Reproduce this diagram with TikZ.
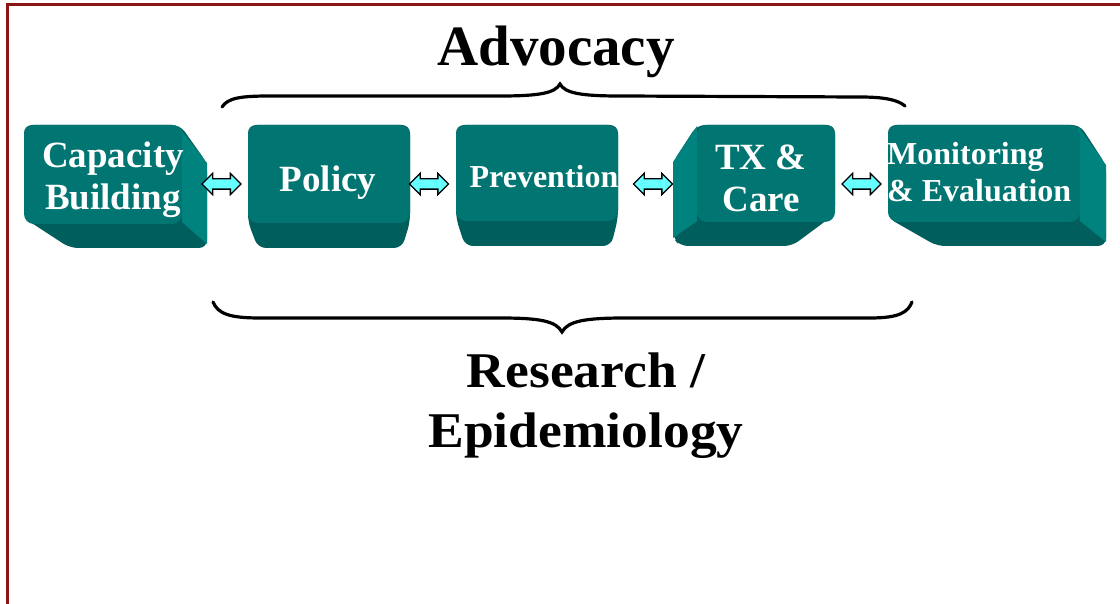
\documentclass[tikz,border=0pt]{standalone}
\usepackage{fontspec}
\setmainfont{Liberation Serif}
\usetikzlibrary{shapes.arrows}
\definecolor{frontc}{HTML}{007572}
\definecolor{sidec}{HTML}{00837F}
\definecolor{bottomc}{HTML}{005F5C}
\definecolor{framec}{HTML}{8B1414}
\definecolor{arrowc}{HTML}{66FFFF}
\tikzset{
  frontface/.style={rectangle, rounded corners=10pt, fill=frontc, inner sep=0pt},
  keybody/.style={fill=bottomc, rounded corners=8pt},
  keyside/.style={fill=sidec},
  keytext/.style={text=white, font=\fontsize{37}{42}\selectfont\bfseries, align=center, inner sep=0pt},
  keytextsmall/.style={text=white, font=\fontsize{32}{37}\selectfont\bfseries, inner sep=0pt},
  linkarrow/.style={double arrow, draw=black, line width=1.3pt, fill=arrowc, minimum height=39pt,
    inner xsep=0pt, inner ysep=4.5pt, double arrow head extend=5.5pt, double arrow tip angle=90},
  bracepath/.style={line width=3.2pt, line cap=round, black},
  bigtitle/.style={font=\fontsize{57}{60}\selectfont\bfseries, align=center, inner sep=0pt}
}
\begin{document}
\begin{tikzpicture}[x=1pt,y=-1pt]
\useasboundingbox (0,0) rectangle (1120,604);
% frame
\draw[framec, line width=3pt] (7.5,604) -- (7.5,4.5) -- (1120,4.5);

% Key 1: Capacity Building
\path[keybody] (24,125) -- (180,125) -- (207,163) -- (207,248) -- (70,248) -- (24,218) -- cycle;
\path[keyside] (178,126) -- (207,163) -- (207,244) -- (182,222) -- cycle;
\node[frontface, minimum width=158pt, minimum height=99pt] (cb) at (103,174.5) {};
\node[keytext] (cbt) at (113,180) {Capacity\\Building};

% Key 2: Policy
\path[keybody] (248,125) -- (410,125) -- (410,222) -- (402,248) -- (258,248) -- (248,222) -- cycle;
\node[frontface, minimum width=162pt, minimum height=98pt] (po) at (329,174) {};
\node[keytext] (pot) at (328,183) {Policy};

% Key 3: Prevention
\path[keybody] (456,125) -- (618,125) -- (618,218) -- (611,246) -- (465,246) -- (456,218) -- cycle;
\node[frontface, minimum width=162pt, minimum height=96pt] (pr) at (537,173) {};
\node[keytextsmall] (prt) at (544,177) {Prevention};

% Key 4: TX & Care
\path[keybody] (697,125) -- (835,125) -- (835,214) -- (792,246) -- (680,246) -- (673,238) -- (673,162) -- cycle;
\path[keyside] (697,126) -- (673,162) -- (673,238) -- (697,221) -- cycle;
\node[frontface, minimum width=138pt, minimum height=97pt] (tx) at (766,173.5) {};
\node[keytext] (txt) at (761,178) {TX \&\\Care};

% Key 5: Monitoring & Evaluation
\path[keybody] (888,125) -- (1080,125) -- (1106,165) -- (1106,246) -- (937,246) -- (888,218) -- cycle;
\path[keyside] (1078,126) -- (1106,165) -- (1106,242) -- (1080,221) -- cycle;
\node[frontface, minimum width=192pt, minimum height=97pt] (me) at (984,173.5) {};
\node[keytextsmall, align=left, anchor=west] (met) at (887,172) {Monitoring\\\& Evaluation};

% arrows
\node[linkarrow] (a1) at (221.5,184) {};
\node[linkarrow] (a2) at (429,184) {};
\node[linkarrow] (a3) at (653,184) {};
\node[linkarrow] (a4) at (861.5,184) {};

% titles
\node[bigtitle] (adv) at (556,52) {Advocacy};
\node[bigtitle, font=\fontsize{50}{60}\selectfont\bfseries, xscale=1.07] (res) at (586,406) {Research /\\Epidemiology};

% top brace
\coordinate (tbl) at (222,107);
\coordinate (tbr) at (905,106);
\coordinate (tbt) at (560,84);
\draw[bracepath] (tbl) .. controls (228,98) and (240,96) .. (270,96) -- (500,96)
  .. controls (540,96) and (555,93) .. (tbt)
  .. controls (565,93) and (580,96) .. (620,96) -- (860,97)
  .. controls (885,97) and (898,100) .. (tbr);
% bottom brace
\coordinate (bbl) at (213,302);
\coordinate (bbr) at (912,302);
\coordinate (bbt) at (562,332);
\draw[bracepath] (bbl) .. controls (218,314) and (230,318) .. (260,318) -- (500,318)
  .. controls (540,318) and (556,321) .. (bbt)
  .. controls (568,321) and (585,318) .. (625,318) -- (870,318)
  .. controls (900,318) and (908,312) .. (bbr);
\end{tikzpicture}
\end{document}
